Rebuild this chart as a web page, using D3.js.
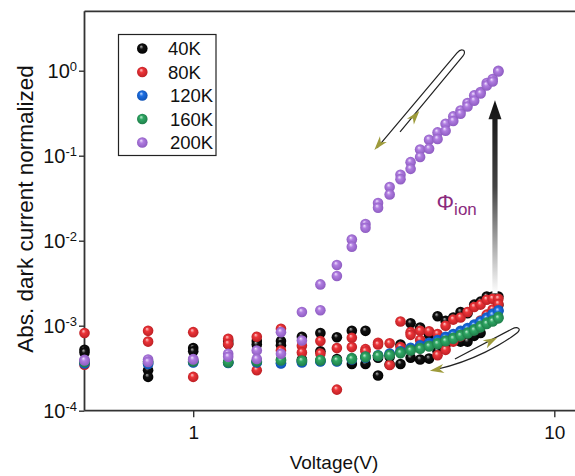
<!DOCTYPE html>
<html>
<head>
<meta charset="utf-8">
<script src="https://cdn.jsdelivr.net/npm/d3@7"></script>
<style>
  body { margin: 0; background: #fff; }
  text { font-family: "Liberation Sans", Arial, sans-serif; fill: #111; }
</style>
</head>
<body>
<svg id="chart" width="575" height="476"></svg>
<script>
// bias voltage (V), two sweeps per temperature
var voltage = [0.5, 0.75, 1, 1.25, 1.5, 1.75, 2, 2.25, 2.5, 2.75, 3, 3.25, 3.5, 3.75,
               4, 4.25, 4.5, 4.75, 5, 5.25, 5.5, 5.75, 6, 6.25, 6.5, 6.75, 7];

var k40Up   = [5.2e-4, 3.0e-4, 5.45e-4, 6.6e-4, 6.6e-4, 6.6e-4, 7.4e-4, 8.2e-4, 7.3e-4, 8.7e-4, 8.7e-4, 4.2e-4, 4.3e-4, 6.0e-4,
               1.07e-3, 9.5e-4, 7.8e-4, 1.29e-3, 1.14e-3, 1.25e-3, 1.45e-3, 1.4e-3, 1.77e-3, 1.92e-3, 2.2e-3, 2.2e-3, 2.2e-3];
var k40Down = [4.85e-4, 2.5e-4, 5.0e-4, 6.1e-4, 6.0e-4, 5.9e-4, 4.0e-4, 5.0e-4, 4.05e-4, 3.55e-4, 3.55e-4, 2.6e-4, 3.5e-4, 3.55e-4,
               4.2e-4, 4.0e-4, 4.1e-4, 5.0e-4, 6.0e-4, 6.8e-4, 6.5e-4, 6.5e-4, 7.6e-4, 8.2e-4, 1.25e-3, 1.45e-3, 1.75e-3];

var k80Up   = [8.2e-4, 8.7e-4, 8.4e-4, 7.0e-4, 7.4e-4, 9.2e-4, 5.8e-4, 6.6e-4, 5.45e-4, 7.2e-4, 5.3e-4, 6.3e-4, 6.2e-4, 1.12e-3,
               8.4e-4, 8.7e-4, 8.6e-4, 8.0e-4, 1.0e-3, 1.18e-3, 1.25e-3, 1.45e-3, 1.66e-3, 1.77e-3, 2.02e-3, 2.07e-3, 2.07e-3];
var k80Down = [3.48e-4, 6.5e-4, 2.5e-4, 6.1e-4, 3.0e-4, 5.1e-4, 4.85e-4, 4.7e-4, 1.77e-4, 5.6e-4, 5.0e-4, 6.0e-4, 3.45e-4, 5.6e-4,
               7.8e-4, 6.8e-4, 6.0e-4, 4.5e-4, 5.2e-4, 6.5e-4, 7.5e-4, 8.5e-4, 1.0e-3, 1.15e-3, 1.35e-3, 1.55e-3, 1.8e-3];

var k120Up   = [3.7e-4, 3.6e-4, 3.75e-4, 3.7e-4, 3.75e-4, 3.65e-4, 3.8e-4, 3.85e-4, 3.85e-4, 4.1e-4, 4.3e-4, 4.5e-4, 4.7e-4, 5.0e-4,
                5.5e-4, 5.9e-4, 6.3e-4, 6.8e-4, 7.4e-4, 8.0e-4, 8.7e-4, 9.4e-4, 1.03e-3, 1.13e-3, 1.25e-3, 1.38e-3, 1.52e-3];
var k120Down = [3.6e-4, 3.55e-4, 3.7e-4, 3.65e-4, 3.7e-4, 3.6e-4, 3.7e-4, 3.8e-4, 3.8e-4, 4.0e-4, 4.2e-4, 4.4e-4, 4.6e-4, 4.9e-4,
                5.3e-4, 5.7e-4, 6.1e-4, 6.6e-4, 7.2e-4, 7.8e-4, 8.4e-4, 9.1e-4, 1.0e-3, 1.1e-3, 1.21e-3, 1.33e-3, 1.48e-3];

var k160Up   = [3.8e-4, 3.8e-4, 3.8e-4, 3.7e-4, 3.8e-4, 4.0e-4, 3.9e-4, 3.9e-4, 3.92e-4, 4.15e-4, 4.35e-4, 4.45e-4, 4.56e-4, 4.85e-4,
                5.2e-4, 5.47e-4, 5.82e-4, 6.26e-4, 6.7e-4, 7.2e-4, 7.8e-4, 8.3e-4, 9.1e-4, 1.0e-3, 1.09e-3, 1.15e-3, 1.27e-3];
var k160Down = [3.75e-4, 3.75e-4, 3.85e-4, 3.75e-4, 3.85e-4, 3.9e-4, 3.85e-4, 3.95e-4, 3.9e-4, 4.05e-4, 4.25e-4, 4.4e-4, 4.5e-4, 4.75e-4,
                5.1e-4, 5.35e-4, 5.7e-4, 6.1e-4, 6.55e-4, 7.0e-4, 7.6e-4, 8.1e-4, 8.8e-4, 9.6e-4, 1.05e-3, 1.12e-3, 1.22e-3];

var k200Up   = [3.98e-4, 4.0e-4, 4.05e-4, 4.68e-4, 5.1e-4, 8.4e-4, 1.45e-3, 3.06e-3, 5.18e-3, 1.03e-2, 1.57e-2, 2.78e-2, 4.28e-2, 5.98e-2,
                8.4e-2, 0.118, 0.154, 0.188, 0.238, 0.29, 0.341, 0.417, 0.512, 0.561, 0.717, 0.798, 1.0];
var k200Down = [3.9e-4, 3.75e-4, 4.0e-4, 4.3e-4, 4.05e-4, 4.68e-4, 6.7e-4, 1.52e-3, 3.85e-3, 8.5e-3, 1.42e-2, 2.44e-2, 3.5e-2, 5.3e-2,
                7.0e-2, 0.0966, 0.121, 0.157, 0.197, 0.256, 0.312, 0.38, 0.444, 0.54, 0.672, 0.748, 0.98];

var seriesNames = ["40K", "80K", "120K", "160K", "200K"];
var seriesColors = ["#111111", "#ec3539", "#1d6fe3", "#2fa764", "#b07de0"];
var seriesLights = ["#b8b8b8", "#ffd0d0", "#c4dcff", "#c6efd6", "#f2e4ff"];
var seriesDark = ["#000000", "#b81d22", "#0d4fb0", "#1d7a47", "#8a58be"];
var seriesData = [[k40Up, k40Down], [k80Up, k80Down], [k120Up, k120Down], [k160Up, k160Down], [k200Up, k200Down]];

var xMajor = [1, 10];
var xMinor = [0.6, 0.7, 0.8, 0.9, 2, 3, 4, 5, 6, 7, 8, 9];
var yMajor = [1e-4, 1e-3, 1e-2, 1e-1, 1];

var svg = d3.select("#chart"),
    W = +svg.attr("width");

var x = d3.scaleLog().domain([0.5, 10]).range([84.5, 554.3]);
var y = d3.scaleLog().domain([1e-4, 5]).range([410.7, 11.3]);

var defs = svg.append("defs");
seriesColors.forEach(function(c, i) {
  var g = defs.append("radialGradient")
      .attr("id", "ball" + i)
      .attr("cx", "50%").attr("cy", "50%").attr("r", "55%")
      .attr("fx", "38%").attr("fy", "30%");
  g.append("stop").attr("offset", "0%").attr("stop-color", seriesLights[i]);
  g.append("stop").attr("offset", "35%").attr("stop-color", c);
  g.append("stop").attr("offset", "100%").attr("stop-color", seriesDark[i]);
});

// minor ticks
var yMinor = [];
for (var e = -4; e <= 0; e++) {
  for (var m = 2; m <= 9; m++) {
    var v = m * Math.pow(10, e);
    if (v <= 5) yMinor.push(v);
  }
}

var axisColor = "#333";

// x axis
var gx = svg.append("g").attr("transform", "translate(0," + y(1e-4) + ")");
gx.call(d3.axisBottom(x).tickValues(xMinor).tickSize(3.5).tickFormat(""));
gx.call(d3.axisBottom(x).tickValues(xMajor).tickSize(6.5).tickPadding(8).tickFormat(d3.format("d")));
gx.selectAll(".domain").remove();
gx.selectAll("line").attr("stroke", axisColor).attr("stroke-width", 1.4);
gx.selectAll("text").attr("font-size", 19).attr("fill", "#111")
  .style("font-family", "'Liberation Sans', Arial, sans-serif");
gx.append("line").attr("x1", x(0.5)).attr("x2", W).attr("y1", 0).attr("y2", 0)
  .attr("stroke", axisColor).attr("stroke-width", 1.8);

// y axis
var gy = svg.append("g").attr("transform", "translate(" + x(0.5) + ",0)");
gy.call(d3.axisLeft(y).tickValues(yMinor).tickSize(3.5).tickFormat(""));
gy.call(d3.axisLeft(y).tickValues(yMajor).tickSize(5.5).tickPadding(2).tickFormat(""));
gy.selectAll(".domain").remove();
gy.selectAll("line").attr("stroke", axisColor).attr("stroke-width", 1.4);
gy.selectAll(".tick text").each(function(d) {
  if (yMajor.indexOf(d) < 0) return;
  var t = d3.select(this).attr("font-size", 20).attr("fill", "#111")
      .style("font-family", "'Liberation Sans', Arial, sans-serif");
  t.text(null);
  t.append("tspan").text("10");
  t.append("tspan").attr("dy", "-0.5em").attr("font-size", 13).text(Math.round(Math.log10(d)));
});
gy.append("line").attr("x1", 0).attr("x2", 0).attr("y1", y(5)).attr("y2", y(1e-4))
  .attr("stroke", axisColor).attr("stroke-width", 1.8);

// top frame
svg.append("line").attr("x1", x(0.5)).attr("x2", W).attr("y1", y(5)).attr("y2", y(5))
  .attr("stroke", axisColor).attr("stroke-width", 1.8);

// axis titles
svg.append("text").attr("x", 334).attr("y", 469).attr("text-anchor", "middle")
  .attr("font-size", 19).text("Voltage(V)");
svg.append("text").attr("transform", "translate(33," + 209 + ") rotate(-90)")
  .attr("text-anchor", "middle").attr("font-size", 22.5).text("Abs. dark current normalized");

// data points
var pts = svg.append("g");
seriesData.forEach(function(sweeps, i) {
  sweeps.forEach(function(vals) {
    pts.selectAll(null)
      .data(voltage.map(function(v, j) { return {v: v, c: vals[j]}; }))
      .enter().append("circle")
        .attr("cx", function(d) { return x(d.v); })
        .attr("cy", function(d) { return y(d.c); })
        .attr("r", 5.3)
        .attr("fill", "url(#ball" + i + ")");
  });
});

// legend
var lg = svg.append("g");
lg.append("rect").attr("x", 118.5).attr("y", 34.5).attr("width", 97.5).attr("height", 121)
  .attr("fill", "#fff").attr("stroke", "#222").attr("stroke-width", 1.2);
seriesNames.forEach(function(n, i) {
  var cy = 48.5 + i * 23.5;
  lg.append("circle").attr("cx", 142.3).attr("cy", cy).attr("r", 5.3).attr("fill", "url(#ball" + i + ")");
  lg.append("text").attr("x", i < 2 ? 168 : 170).attr("y", cy).attr("dy", "0.36em")
    .attr("font-size", 18.5).text(n);
});

// big arrow (phi_ion)
var arrowV = 6.85, arrowTop = 0.45, arrowBottom = 2.4e-3;
var ax = x(arrowV), ayTop = y(arrowTop), ayBot = y(arrowBottom);
var ag = defs.append("linearGradient").attr("id", "arrowGrad")
  .attr("gradientUnits", "userSpaceOnUse")
  .attr("x1", 0).attr("x2", 0).attr("y1", ayTop).attr("y2", ayBot);
ag.append("stop").attr("offset", "0%").attr("stop-color", "#111");
ag.append("stop").attr("offset", "45%").attr("stop-color", "#444");
ag.append("stop").attr("offset", "100%").attr("stop-color", "#fff");
svg.append("rect").attr("x", ax - 2.6).attr("y", ayTop + 17).attr("width", 5.2)
  .attr("height", ayBot - ayTop - 17).attr("fill", "url(#arrowGrad)");
svg.append("path")
  .attr("d", "M" + ax + "," + ayTop + " L" + (ax + 6.5) + "," + (ayTop + 19) +
             " L" + (ax - 6.5) + "," + (ayTop + 19) + " Z")
  .attr("fill", "url(#arrowGrad)");

var phi = svg.append("text").attr("x", x(4.72)).attr("y", y(0.023))
  .attr("fill", "#8b2b7e").attr("font-size", 22);
phi.append("tspan").text("Φ").style("fill", "#8b2b7e");
phi.append("tspan").attr("dy", 5).attr("font-size", 17).text("ion").style("fill", "#8b2b7e");

// hysteresis loops
var olive = "#9e9b3b";
function arrowHead(g, tx, ty, dx, dy) {
  var len = Math.sqrt(dx * dx + dy * dy), ux = dx / len, uy = dy / len;
  var nx = -uy, ny = ux, L = 14, w = 4.5;
  var p = [[tx, ty],
           [tx - L * ux + w * nx, ty - L * uy + w * ny],
           [tx - (L - 4) * ux, ty - (L - 4) * uy],
           [tx - L * ux - w * nx, ty - L * uy - w * ny]];
  g.append("path").attr("d", "M" + p.join("L") + "Z").attr("fill", olive);
}

var loop1 = svg.append("g").attr("transform", "translate(" + x(5.66) + "," + y(1.62) + ")");
loop1.append("path")
  .attr("d", "M-65,79 L-2,3 C2,-2 -3,-6 -8,0 L-88,95")
  .attr("fill", "none").attr("stroke", "#222").attr("stroke-width", 1.2);
arrowHead(loop1, -45.7, 58, 63, -76);
arrowHead(loop1, -90.7, 97, -80, 95);

var loop2 = svg.append("g").attr("transform", "translate(" + x(7.93) + "," + y(8.9e-4) + ")");
loop2.append("path")
  .attr("d", "M-63,29 L-6,-1 C0,-4 4,-1 -1,3 C-15,14 -45,31 -80,39")
  .attr("fill", "none").attr("stroke", "#222").attr("stroke-width", 1.2);
arrowHead(loop2, -20.7, 7.7, 58, -30);
arrowHead(loop2, -88, 40.7, -17, 2.7);
</script>
</body>
</html>
